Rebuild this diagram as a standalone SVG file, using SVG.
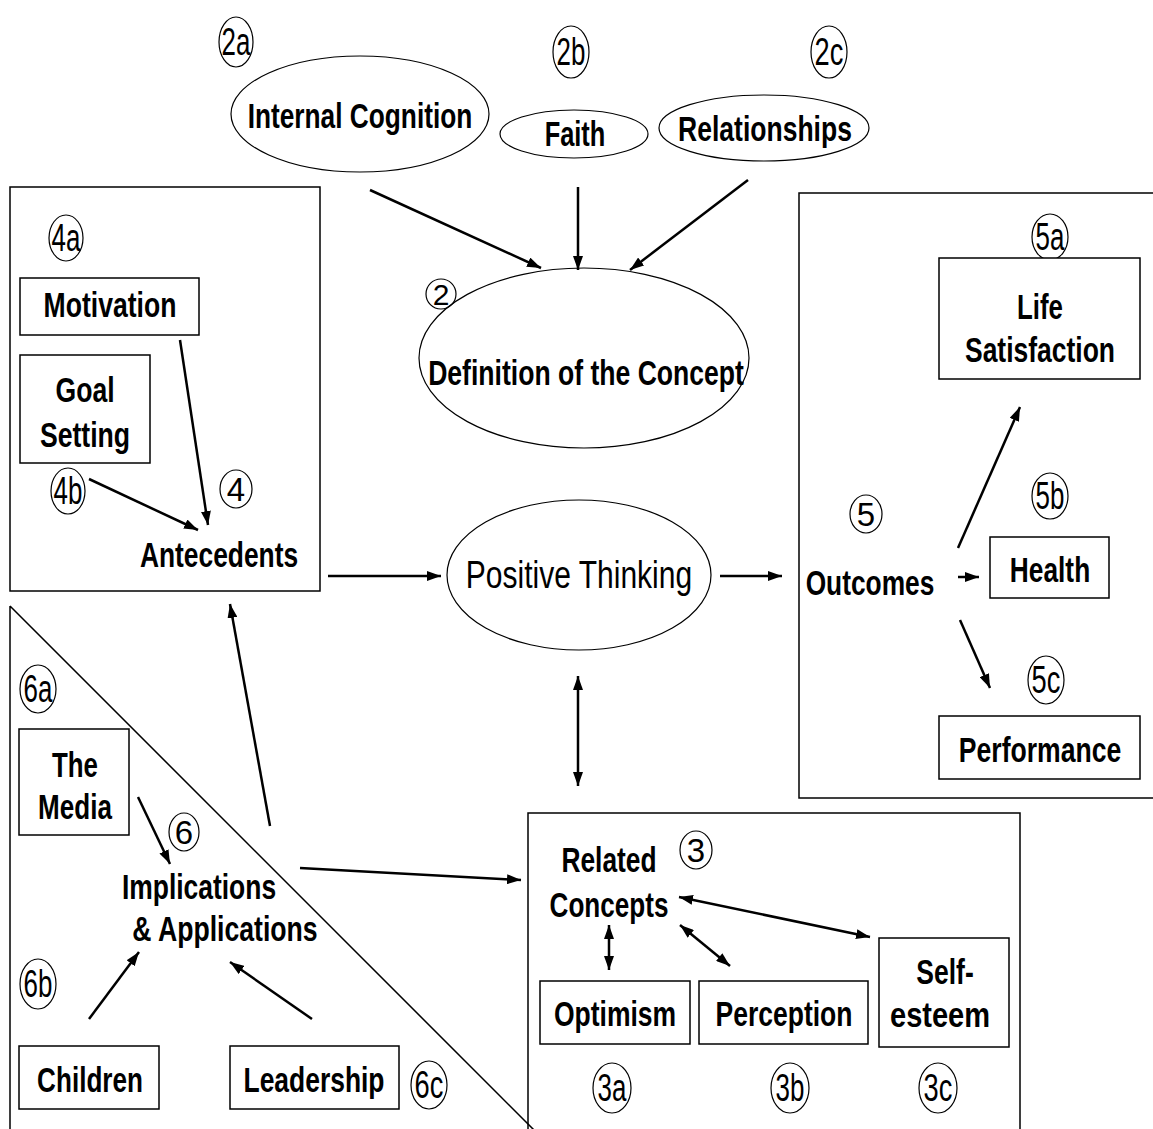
<svg xmlns="http://www.w3.org/2000/svg" width="1153" height="1129" viewBox="0 0 1153 1129">
<defs>
<marker id="ah" viewBox="0 0 14 10" refX="14" refY="5" markerWidth="14" markerHeight="10" markerUnits="userSpaceOnUse" orient="auto-start-reverse"><path d="M0,0 L14,5 L0,10 z" fill="#000"/></marker>
</defs>
<style>
.b{font-family:"Liberation Sans",Arial,sans-serif;font-weight:bold;font-size:35px;text-anchor:middle;fill:#000}
.r{font-family:"Liberation Sans",Arial,sans-serif;font-weight:normal;font-size:38px;text-anchor:middle;fill:#000}
.lb{font-family:"Liberation Sans",Arial,sans-serif;font-weight:normal;font-size:39px;text-anchor:middle;fill:#000}
.box{fill:#fff;stroke:#000;stroke-width:1.5}
.frame{fill:none;stroke:#000;stroke-width:1.5}
.ell{fill:#fff;stroke:#000;stroke-width:1.2}
.c{fill:none;stroke:#000;stroke-width:1.2}
#connectors line{stroke:#000;stroke-width:2.5;marker-end:url(#ah)}
#connectors line.dbl{marker-start:url(#ah)}
</style>
<rect width="1153" height="1129" fill="#fff"/>

<g id="frames">
<rect class="frame" x="10" y="187" width="310" height="404"/>
<rect class="frame" x="799" y="193" width="370" height="605"/>
<path class="frame" d="M10,606 V1135 M10,606 L536,1132" stroke-width="1.2"/>
<path class="frame" d="M528,1135 V813 H1020 V1135"/>
</g>

<g id="n2a"><ellipse class="c" cx="236" cy="42" rx="17" ry="25"/><text class="lb" transform="translate(236,55) scale(0.67,1)" textLength="43" lengthAdjust="spacingAndGlyphs">2a</text></g>
<g id="n2b"><ellipse class="c" cx="571" cy="52" rx="18" ry="26"/><text class="lb" transform="translate(571,65) scale(0.67,1)" textLength="43" lengthAdjust="spacingAndGlyphs">2b</text></g>
<g id="n2c"><ellipse class="c" cx="829" cy="52" rx="18" ry="26"/><text class="lb" transform="translate(829,65) scale(0.67,1)" textLength="43" lengthAdjust="spacingAndGlyphs">2c</text></g>

<g id="internal"><ellipse class="ell" cx="360" cy="114" rx="129" ry="58"/><text class="b" style="font-size:36px" transform="translate(360,128) scale(0.82,1)" textLength="274" lengthAdjust="spacingAndGlyphs">Internal Cognition</text></g>
<g id="faith"><ellipse class="ell" cx="574" cy="134" rx="74" ry="24"/><text class="b" transform="translate(575,146) scale(0.82,1)" textLength="74" lengthAdjust="spacingAndGlyphs">Faith</text></g>
<g id="relationships"><ellipse class="ell" cx="764" cy="128" rx="105" ry="33"/><text class="b" transform="translate(765,141) scale(0.82,1)" textLength="212" lengthAdjust="spacingAndGlyphs">Relationships</text></g>

<g id="definition"><ellipse class="ell" cx="584" cy="358" rx="165" ry="90"/><text class="b" transform="translate(586,385) scale(0.82,1)" textLength="385" lengthAdjust="spacingAndGlyphs">Definition of the Concept</text></g>
<g id="n2"><circle class="c" cx="441" cy="294" r="15"/><text class="lb" x="441" y="305" style="font-size:30px">2</text></g>

<g id="positive"><ellipse class="ell" cx="579" cy="575" rx="132" ry="75"/><text class="r" transform="translate(579,588) scale(0.82,1)" textLength="276" lengthAdjust="spacingAndGlyphs">Positive Thinking</text></g>

<g id="n4a"><ellipse class="c" cx="66" cy="238" rx="17" ry="23"/><text class="lb" transform="translate(66,251) scale(0.67,1)" textLength="43" lengthAdjust="spacingAndGlyphs">4a</text></g>
<g id="motivation"><rect class="box" x="20" y="278" width="179" height="57"/><text class="b" transform="translate(110,317) scale(0.82,1)" textLength="162" lengthAdjust="spacingAndGlyphs">Motivation</text></g>
<g id="goal"><rect class="box" x="20" y="355" width="130" height="108"/><text class="b" transform="translate(85,402) scale(0.82,1)" textLength="72" lengthAdjust="spacingAndGlyphs">Goal</text><text class="b" transform="translate(85,447) scale(0.82,1)" textLength="110" lengthAdjust="spacingAndGlyphs">Setting</text></g>
<g id="n4b"><ellipse class="c" cx="68" cy="491" rx="17" ry="23"/><text class="lb" transform="translate(68,504) scale(0.67,1)" textLength="43" lengthAdjust="spacingAndGlyphs">4b</text></g>
<g id="n4"><ellipse class="c" cx="236" cy="489" rx="16" ry="19"/><text class="lb" x="236" y="501" style="font-size:33px">4</text></g>
<g id="antecedents"><text class="b" transform="translate(219,567) scale(0.82,1)" textLength="193" lengthAdjust="spacingAndGlyphs">Antecedents</text></g>

<g id="n5a"><ellipse class="c" cx="1050" cy="237" rx="18" ry="23"/><text class="lb" transform="translate(1050,250) scale(0.67,1)" textLength="43" lengthAdjust="spacingAndGlyphs">5a</text></g>
<g id="lifesat"><rect class="box" x="939" y="258" width="201" height="121"/><text class="b" transform="translate(1040,319) scale(0.82,1)" textLength="56" lengthAdjust="spacingAndGlyphs">Life</text><text class="b" transform="translate(1040,362) scale(0.82,1)" textLength="183" lengthAdjust="spacingAndGlyphs">Satisfaction</text></g>
<g id="n5"><ellipse class="c" cx="866" cy="514" rx="16" ry="19"/><text class="lb" x="866" y="526" style="font-size:33px">5</text></g>
<g id="outcomes"><text class="b" transform="translate(870,595) scale(0.82,1)" textLength="157" lengthAdjust="spacingAndGlyphs">Outcomes</text></g>
<g id="n5b"><ellipse class="c" cx="1050" cy="496" rx="18" ry="23"/><text class="lb" transform="translate(1050,509) scale(0.67,1)" textLength="43" lengthAdjust="spacingAndGlyphs">5b</text></g>
<g id="health"><rect class="box" x="990" y="537" width="119" height="61"/><text class="b" transform="translate(1050,582) scale(0.82,1)" textLength="98" lengthAdjust="spacingAndGlyphs">Health</text></g>
<g id="n5c"><ellipse class="c" cx="1046" cy="680" rx="18" ry="24"/><text class="lb" transform="translate(1046,693) scale(0.67,1)" textLength="43" lengthAdjust="spacingAndGlyphs">5c</text></g>
<g id="performance"><rect class="box" x="939" y="716" width="201" height="63"/><text class="b" transform="translate(1040,762) scale(0.82,1)" textLength="198" lengthAdjust="spacingAndGlyphs">Performance</text></g>

<g id="n6a"><ellipse class="c" cx="38" cy="689" rx="18" ry="24"/><text class="lb" transform="translate(38,702) scale(0.67,1)" textLength="43" lengthAdjust="spacingAndGlyphs">6a</text></g>
<g id="media"><rect class="box" x="19" y="729" width="110" height="106"/><text class="b" transform="translate(75,777) scale(0.82,1)" textLength="56" lengthAdjust="spacingAndGlyphs">The</text><text class="b" transform="translate(75,819) scale(0.82,1)" textLength="90" lengthAdjust="spacingAndGlyphs">Media</text></g>
<g id="n6"><ellipse class="c" cx="184" cy="832" rx="15" ry="19"/><text class="lb" x="184" y="844" style="font-size:33px">6</text></g>
<g id="implications"><text class="b" transform="translate(199,899) scale(0.82,1)" textLength="188" lengthAdjust="spacingAndGlyphs">Implications</text><text class="b" transform="translate(225,941) scale(0.82,1)" textLength="226" lengthAdjust="spacingAndGlyphs">&amp; Applications</text></g>
<g id="n6b"><ellipse class="c" cx="38" cy="984" rx="18" ry="25"/><text class="lb" transform="translate(38,997) scale(0.67,1)" textLength="43" lengthAdjust="spacingAndGlyphs">6b</text></g>
<g id="children"><rect class="box" x="19" y="1046" width="140" height="63"/><text class="b" transform="translate(90,1092) scale(0.82,1)" textLength="129" lengthAdjust="spacingAndGlyphs">Children</text></g>
<g id="leadership"><rect class="box" x="230" y="1046" width="169" height="63"/><text class="b" transform="translate(314,1092) scale(0.82,1)" textLength="172" lengthAdjust="spacingAndGlyphs">Leadership</text></g>
<g id="n6c"><ellipse class="c" cx="429" cy="1085" rx="18" ry="24"/><text class="lb" transform="translate(429,1098) scale(0.67,1)" textLength="43" lengthAdjust="spacingAndGlyphs">6c</text></g>

<g id="related"><text class="b" transform="translate(609,872) scale(0.82,1)" textLength="116" lengthAdjust="spacingAndGlyphs">Related</text><text class="b" transform="translate(609,917) scale(0.82,1)" textLength="145" lengthAdjust="spacingAndGlyphs">Concepts</text></g>
<g id="n3"><ellipse class="c" cx="696" cy="850" rx="16" ry="19"/><text class="lb" x="696" y="862" style="font-size:33px">3</text></g>
<g id="optimism"><rect class="box" x="540" y="981" width="150" height="63"/><text class="b" transform="translate(615,1026) scale(0.82,1)" textLength="149" lengthAdjust="spacingAndGlyphs">Optimism</text></g>
<g id="perception"><rect class="box" x="699" y="981" width="169" height="63"/><text class="b" transform="translate(784,1026) scale(0.82,1)" textLength="167" lengthAdjust="spacingAndGlyphs">Perception</text></g>
<g id="selfesteem"><rect class="box" x="879" y="938" width="130" height="109"/><text class="b" transform="translate(945,984) scale(0.82,1)" textLength="70" lengthAdjust="spacingAndGlyphs">Self-</text><text class="b" transform="translate(940,1027) scale(0.82,1)" textLength="122" lengthAdjust="spacingAndGlyphs">esteem</text></g>
<g id="n3a"><ellipse class="c" cx="612" cy="1088" rx="19" ry="25"/><text class="lb" transform="translate(612,1101) scale(0.67,1)" textLength="43" lengthAdjust="spacingAndGlyphs">3a</text></g>
<g id="n3b"><ellipse class="c" cx="790" cy="1088" rx="19" ry="25"/><text class="lb" transform="translate(790,1101) scale(0.67,1)" textLength="43" lengthAdjust="spacingAndGlyphs">3b</text></g>
<g id="n3c"><ellipse class="c" cx="938" cy="1088" rx="19" ry="25"/><text class="lb" transform="translate(938,1101) scale(0.67,1)" textLength="43" lengthAdjust="spacingAndGlyphs">3c</text></g>

<g id="connectors">
<line x1="370" y1="190" x2="541" y2="268"/>
<line x1="578" y1="187" x2="578" y2="270"/>
<line x1="748" y1="180" x2="630" y2="270"/>
<line x1="328" y1="576" x2="441" y2="576"/>
<line x1="720" y1="576" x2="782" y2="576"/>
<line class="dbl" x1="578" y1="676" x2="578" y2="786"/>
<line x1="180" y1="340" x2="208" y2="525"/>
<line x1="89" y1="479" x2="198" y2="530"/>
<line x1="958" y1="548" x2="1020" y2="407"/>
<line x1="958" y1="577" x2="979" y2="577"/>
<line x1="960" y1="620" x2="990" y2="688"/>
<line x1="138" y1="797" x2="170" y2="864"/>
<line x1="89" y1="1019" x2="139" y2="952"/>
<line x1="312" y1="1019" x2="230" y2="962"/>
<line x1="270" y1="826" x2="230" y2="604"/>
<line x1="300" y1="868" x2="521" y2="880"/>
<line class="dbl" x1="679" y1="897" x2="870" y2="937"/>
<line class="dbl" x1="609" y1="925" x2="609" y2="970"/>
<line class="dbl" x1="680" y1="925" x2="730" y2="966"/>
</g>
</svg>
